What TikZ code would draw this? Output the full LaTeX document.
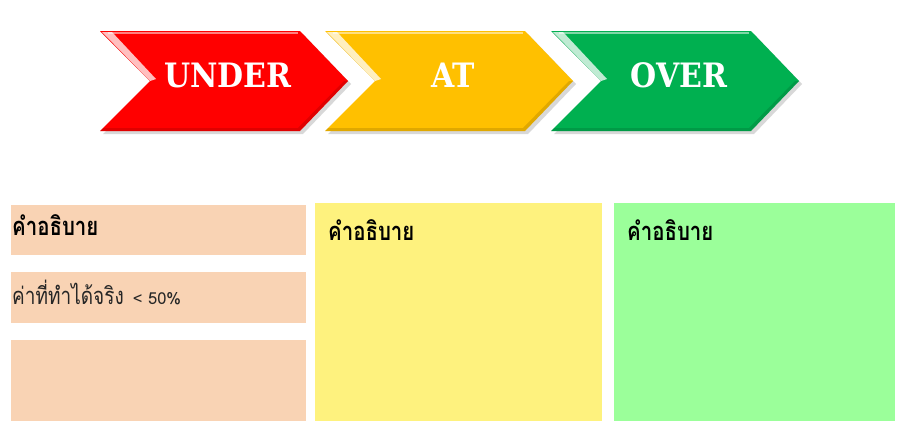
\documentclass[tikz,border=0pt]{standalone}
\usepackage{fontspec}
\newfontfamily\thaifont[Script=Thai]{Loma}
\newfontfamily\stencilfont{DejaVu Serif}
\usetikzlibrary{calc}
\definecolor{cred}{HTML}{FF0000}
\definecolor{cyellow}{HTML}{FFC000}
\definecolor{cgreen}{HTML}{00B050}
\definecolor{bpink}{HTML}{F9D3B4}
\definecolor{byellow}{HTML}{FEF27E}
\definecolor{bgreen}{HTML}{9BFF9A}
\newcommand{\tall}[1]{\scalebox{1}[1.25]{#1}}
\begin{document}
\begin{tikzpicture}[x=1pt,y=-1pt,
  chevlabel/.style={text=white,font=\stencilfont\bfseries\fontsize{30}{30}\selectfont,inner sep=0pt},
  boxtitle/.style={anchor=west,font=\thaifont\bfseries\fontsize{20.4}{20}\selectfont,inner sep=0pt,text=black},
  boxtext/.style={anchor=west,font=\thaifont\fontsize{19}{19}\selectfont,inner sep=0pt,text=black!85}]
\useasboundingbox (0,0) rectangle (905,421);
\fill[white] (0,0) rectangle (905,421);
% chevrons
\newcommand{\chevron}[2]{%
  \fill[black!25,opacity=0.6] (#1+3,34) -- (#1+203,34) -- (#1+251,84) -- (#1+203,134) -- (#1+3,134) -- (#1+53,84) -- cycle;
  \fill[#2] (#1,31) -- (#1+200,31) -- (#1+248,81) -- (#1+200,131) -- (#1,131) -- (#1+50,81) -- cycle;
  \fill[white,opacity=0.75] (#1+2,32) -- (#1+12,32) -- (#1+56,79) -- (#1+50,81) -- cycle;
  \draw[white,opacity=0.5,line width=1.2pt] (#1+8,33) -- (#1+198,33);
  \fill[black,opacity=0.12] (#1+200,131) -- (#1+248,81) -- (#1+244,81) -- (#1+198,128) -- (#1+3,128) -- (#1,131) -- cycle;
}
\chevron{100}{cred}
\chevron{325}{cyellow}
\chevron{551}{cgreen}
\node[chevlabel] (under) at (228,75) {\scalebox{1}[1.12]{UNDER}};
\node[chevlabel] (at) at (453,75) {\scalebox{1}[1.12]{AT}};
\node[chevlabel] (over) at (679,75) {\scalebox{1}[1.12]{OVER}};
% boxes
\fill[bpink] (11,205) rectangle (306,255);
\fill[bpink] (11,272) rectangle (306,323);
\fill[bpink] (11,340) rectangle (306,421);
\fill[byellow] (315,203) rectangle (602,421);
\fill[bgreen] (614,203) rectangle (895,421);
\node[boxtitle] (t1) at (12,225) {\tall{คำอธิบาย}};
\node[boxtext] (t2) at (12,292) {\tall{ค่าที่ทำได้จริง} {\fontsize{16.5}{16.5}\selectfont\,< 50\%}};
\node[boxtitle] (t3) at (328,230) {\tall{คำอธิบาย}};
\node[boxtitle] (t4) at (627,230) {\tall{คำอธิบาย}};
\end{tikzpicture}
\end{document}
